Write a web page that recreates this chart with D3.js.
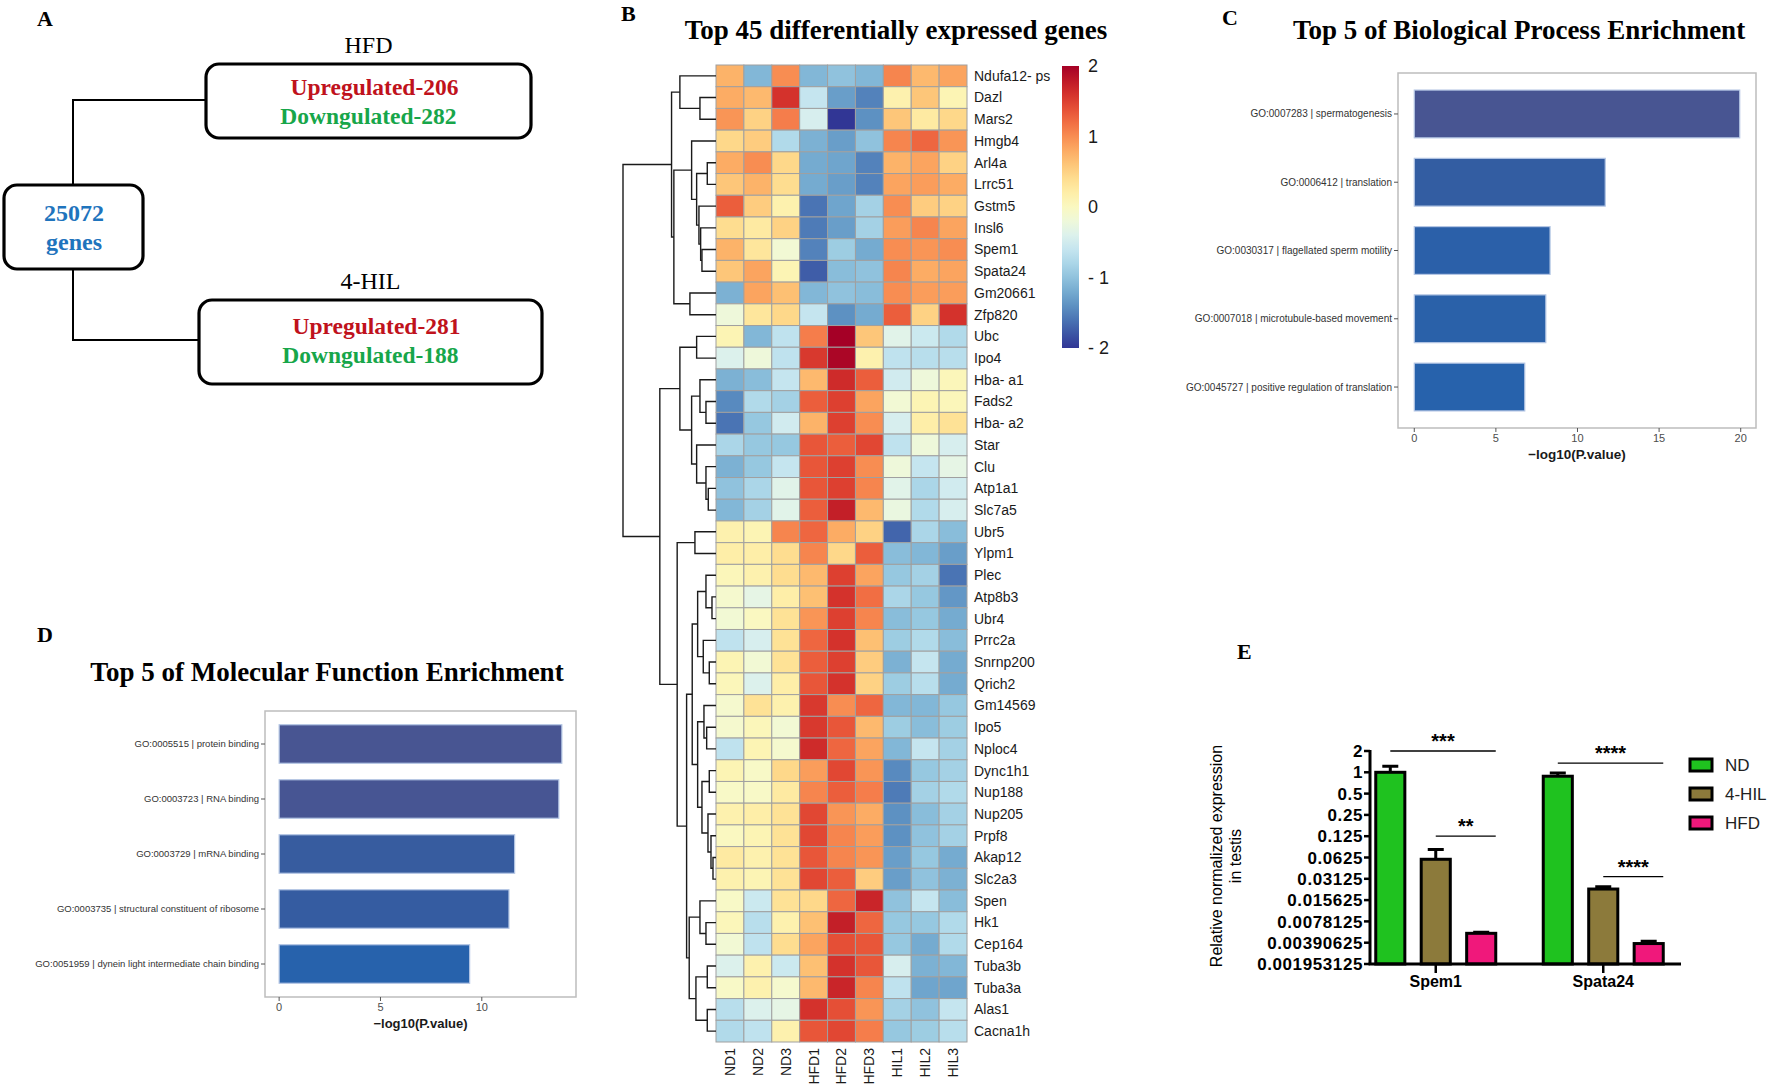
<!DOCTYPE html>
<html>
<head>
<meta charset="utf-8">
<title>Top 45 DEGs figure</title>
<script src="https://cdn.jsdelivr.net/npm/d3@7"></script>
<style>
  body { margin: 0; background: #fff; }
  svg { display: block; }
</style>
</head>
<body>
<svg id="figure" width="1772" height="1087"></svg>
<script>
// ---- panel A: DEG counts
const totalGenes = 25072;
const comparisons = ['HFD', '4-HIL'];
const upregulated = [206, 281];
const downregulated = [282, 188];

// ---- panel B: heatmap (row z-scores)
const sampleNames = ['ND1', 'ND2', 'ND3', 'HFD1', 'HFD2', 'HFD3', 'HIL1', 'HIL2', 'HIL3'];
const geneNames = ['Ndufa12- ps', 'Dazl', 'Mars2', 'Hmgb4', 'Arl4a', 'Lrrc51', 'Gstm5', 'Insl6', 'Spem1',
  'Spata24', 'Gm20661', 'Zfp820', 'Ubc', 'Ipo4', 'Hba- a1', 'Fads2', 'Hba- a2', 'Star', 'Clu', 'Atp1a1',
  'Slc7a5', 'Ubr5', 'Ylpm1', 'Plec', 'Atp8b3', 'Ubr4', 'Prrc2a', 'Snrnp200', 'Qrich2', 'Gm14569', 'Ipo5',
  'Nploc4', 'Dync1h1', 'Nup188', 'Nup205', 'Prpf8', 'Akap12', 'Slc2a3', 'Spen', 'Hk1', 'Cep164', 'Tuba3b',
  'Tuba3a', 'Alas1', 'Cacna1h'];
const zScores = [
  [0.75, -1.1, 1.0, -1.1, -1.0, -1.1, 1.05, 0.7, 0.85],
  [0.8, 0.7, 1.6, -0.6, -1.3, -1.5, 0.15, 0.6, 0.1],
  [0.95, 0.5, 1.1, -0.45, -2.0, -1.4, 0.6, 0.25, 0.45],
  [0.45, 0.55, -0.75, -1.15, -1.3, -1.0, 1.05, 1.25, 0.95],
  [0.8, 1.0, 0.45, -1.2, -1.25, -1.5, 0.75, 0.85, 0.5],
  [0.6, 0.75, 0.4, -1.2, -1.3, -1.5, 0.85, 0.9, 0.8],
  [1.3, 0.55, 0.15, -1.6, -1.25, -0.85, 1.0, 0.55, 0.5],
  [0.4, 0.25, 0.5, -1.55, -1.3, -0.85, 0.9, 1.05, 0.85],
  [0.75, 0.3, -0.15, -1.5, -0.9, -1.2, 1.0, 0.95, 1.0],
  [0.6, 0.85, 0.1, -1.75, -1.05, -1.0, 1.05, 0.8, 0.85],
  [-1.15, 0.85, 0.65, -1.1, -1.0, -1.05, 1.0, 0.9, 0.9],
  [-0.2, 0.3, 0.45, -0.6, -1.4, -1.2, 1.3, 0.5, 1.6],
  [0.1, -1.1, -0.65, 1.1, 2.0, 0.6, -0.35, -0.55, -0.75],
  [-0.4, -0.2, -0.65, 1.55, 1.95, 0.15, -0.65, -0.7, -0.7],
  [-1.15, -1.05, -0.6, 0.7, 1.65, 1.3, -0.5, -0.2, 0.05],
  [-1.45, -0.75, -0.85, 1.3, 1.5, 0.85, -0.15, 0.1, 0.05],
  [-1.6, -0.95, -0.5, 0.75, 1.5, 1.0, -0.45, 0.2, 0.35],
  [-0.8, -0.95, -0.95, 1.35, 1.3, 1.45, -0.65, -0.2, -0.45],
  [-1.15, -0.95, -0.6, 1.35, 1.5, 1.0, -0.2, -0.6, -0.3],
  [-1.0, -0.8, -0.35, 1.35, 1.5, 1.05, -0.35, -0.8, -0.5],
  [-1.1, -0.85, -0.35, 1.3, 1.75, 0.7, -0.25, -0.75, -0.45],
  [0.15, 0.1, 1.05, 1.25, 0.8, 0.5, -1.7, -0.8, -1.05],
  [0.2, 0.2, 0.4, 1.05, 0.45, 1.3, -1.05, -1.1, -1.3],
  [0.05, 0.15, 0.4, 0.7, 1.5, 0.85, -0.95, -0.85, -1.6],
  [-0.1, -0.3, 0.2, 0.65, 1.6, 1.2, -0.8, -0.95, -1.35],
  [-0.15, 0.0, 0.35, 0.95, 1.5, 1.05, -1.05, -0.95, -1.2],
  [-0.65, -0.45, 0.35, 1.25, 1.6, 0.65, -0.9, -0.75, -1.05],
  [0.1, -0.15, 0.35, 1.3, 1.5, 0.55, -1.15, -0.6, -1.2],
  [0.05, -0.4, 0.2, 1.35, 1.6, 0.5, -0.9, -0.7, -1.2],
  [-0.1, 0.35, 0.15, 1.55, 1.0, 1.25, -1.1, -1.1, -0.95],
  [-0.1, 0.05, -0.15, 1.55, 1.35, 0.7, -0.9, -1.05, -0.9],
  [-0.65, 0.1, -0.1, 1.65, 1.25, 0.85, -1.1, -0.6, -0.85],
  [0.1, -0.05, 0.45, 0.9, 1.45, 0.95, -1.45, -0.95, -0.85],
  [-0.05, -0.05, 0.25, 1.05, 1.3, 1.1, -1.55, -0.85, -0.75],
  [0.15, 0.2, 0.35, 1.45, 0.95, 0.8, -1.4, -1.05, -0.85],
  [0.0, 0.1, 0.35, 1.45, 1.05, 0.9, -1.4, -1.0, -0.85],
  [0.25, 0.15, 0.35, 1.35, 1.05, 0.95, -1.3, -0.95, -1.2],
  [0.15, 0.1, 0.35, 1.45, 1.3, 0.55, -1.3, -1.0, -1.15],
  [-0.05, -0.55, 0.35, 0.45, 1.25, 1.7, -1.0, -0.6, -1.05],
  [0.05, -0.7, 0.15, 0.65, 1.75, 1.25, -0.95, -0.95, -0.75],
  [-0.15, -0.65, 0.4, 0.85, 1.4, 1.35, -0.95, -1.2, -0.75],
  [-0.4, 0.15, -0.55, 0.65, 1.6, 1.35, -0.45, -1.15, -1.1],
  [-0.05, 0.15, -0.1, 0.7, 1.7, 1.05, -0.65, -1.25, -1.25],
  [-0.7, -0.4, -0.3, 1.6, 1.4, 0.95, -0.85, -1.0, -0.6],
  [-0.75, -0.65, 0.15, 1.35, 1.45, 1.1, -0.95, -0.9, -0.7]
];
// row clustering, hclust style: negative = leaf (row+1), positive = earlier merge (1-based), then height
const rowMerges = [
  [-2, -3, 16], [-1, 1, 36], [-5, -6, 8.7], [-9, -10, 14], [-8, 4, 15.3], [-7, 5, 17], [3, 6, 19.3],
  [-4, 7, 24.3], [-11, -12, 26], [8, 9, 42], [2, 10, 44.3],
  [-13, -14, 19.3], [-16, -17, 10], [-15, 13, 16], [-20, -21, 7.7], [-19, 15, 10], [-18, 16, 19.3],
  [14, 17, 24.3], [12, 18, 36], [-22, -23, 21], [-25, -26, 4], [-24, 21, 10], [-28, -29, 6.7],
  [-27, 23, 12.7], [22, 24, 18.3], [-31, -32, 9.3], [-30, 26, 12], [-33, -34, 6.7], [-37, -38, 3],
  [-36, 29, 5], [-35, 30, 8], [28, 31, 14], [27, 32, 18.3], [25, 33, 23.7], [-40, -41, 10],
  [-39, 35, 16], [-42, -43, 8.7], [-44, -45, 8.7], [37, 38, 20], [36, 39, 26.7], [34, 40, 29.3],
  [20, 41, 38.7], [19, 42, 56], [11, 43, 92.7]
];
const legendTicks = [2, 1, 0, -1, -2];

// ---- panel C: biological process
const bpTerms = ['GO:0007283 | spermatogenesis', 'GO:0006412 | translation',
  'GO:0030317 | flagellated sperm motility', 'GO:0007018 | microtubule-based movement',
  'GO:0045727 | positive regulation of translation'];
const bpValues = [19.94, 11.7, 8.32, 8.06, 6.77];

// ---- panel D: molecular function
const mfTerms = ['GO:0005515 | protein binding', 'GO:0003723 | RNA binding', 'GO:0003729 | mRNA binding',
  'GO:0003735 | structural constituent of ribosome', 'GO:0051959 | dynein light intermediate chain binding'];
const mfValues = [13.95, 13.8, 11.62, 11.34, 9.4];

// ---- panel E: qPCR
const qpcrGenes = ['Spem1', 'Spata24'];
const qpcrGroups = ['ND', '4-HIL', 'HFD'];
const qpcrMeans = [[1.0, 0.059, 0.0053], [0.88, 0.0224, 0.0038]];
const qpcrUpper = [[1.22, 0.081, 0.0055], [0.98, 0.0242, 0.0041]];
const qpcrTicks = [2, 1, 0.5, 0.25, 0.125, 0.0625, 0.03125, 0.015625, 0.0078125, 0.00390625, 0.001953125];
const sigGene = [0, 0, 1, 1];
const sigFrom = [0, 1, 0, 1];
const sigTo = [2, 2, 2, 2];
const sigLevel = [2, 0.125, 1.35, 0.0335];
const sigLabel = ['***', '**', '****', '****'];


const serif = '"Liberation Serif", "Times New Roman", serif';
const sans = '"Liberation Sans", Arial, sans-serif';
const svg = d3.select('#figure');

function panelLetter(txt, x, y) {
  svg.append('text').attr('x', x).attr('y', y).text(txt)
    .style('font-family', serif).style('font-weight', 'bold').style('font-size', '22px');
}
function serifTitle(txt, x, y) {
  svg.append('text').attr('x', x).attr('y', y).attr('text-anchor', 'middle').text(txt)
    .style('font-family', serif).style('font-weight', 'bold').style('font-size', '27px');
}

drawPanelA();
drawHeatmap();
drawEnrichment(bpTerms, bpValues, {x0: 1398, x1: 1756, y0: 73, y1: 428}, 10, 5, 13.5);
drawEnrichment(mfTerms, mfValues, {x0: 265, x1: 576, y0: 711, y1: 997}, 9.5, 3, 13);
drawQpcr();

panelLetter('A', 37, 26);
panelLetter('B', 621, 21);
panelLetter('C', 1222, 25);
panelLetter('D', 37, 642);
panelLetter('E', 1237, 659);
serifTitle('Top 45 differentially expressed genes', 896, 39);
serifTitle('Top 5 of Biological Process Enrichment', 1519, 39);
serifTitle('Top 5 of Molecular Function Enrichment', 327, 681);


function drawPanelA() {
  const g = svg.append('g');
  const box = (x, y, w, h) => g.append('rect').attr('x', x).attr('y', y).attr('width', w).attr('height', h)
    .attr('rx', 13).attr('fill', 'none').attr('stroke', '#000').attr('stroke-width', 3.2);

  // connectors
  g.append('path').attr('d', 'M206,100H73V185M73,269V340H199')
    .attr('fill', 'none').attr('stroke', '#000').attr('stroke-width', 2);

  box(4, 185, 139, 84);
  g.append('text').attr('x', 74).attr('y', 221).text(totalGenes);
  g.append('text').attr('x', 74).attr('y', 250).text('genes');
  g.selectAll('text').attr('text-anchor', 'middle').attr('fill', '#1f74bd')
    .style('font-family', serif).style('font-weight', 'bold').style('font-size', '24px');

  const boxes = [
    {x: 206, y: 64, w: 325, h: 74, top: 53, up: 95, down: 124},
    {x: 199, y: 300, w: 343, h: 84, top: 289, up: 334, down: 363}
  ];
  comparisons.forEach((name, i) => {
    const b = boxes[i];
    const cx = b.x + b.w / 2;
    box(b.x, b.y, b.w, b.h);
    g.append('text').attr('x', cx).attr('y', b.top).attr('text-anchor', 'middle').text(name)
      .style('font-family', serif).style('font-size', '24px');
    g.append('text').attr('x', cx + 6).attr('y', b.up).attr('text-anchor', 'middle')
      .attr('fill', '#c0121c').text('Upregulated-' + upregulated[i])
      .style('font-family', serif).style('font-weight', 'bold').style('font-size', '23.5px');
    g.append('text').attr('x', cx).attr('y', b.down).attr('text-anchor', 'middle')
      .attr('fill', '#17a64a').text('Downgulated-' + downregulated[i])
      .style('font-family', serif).style('font-weight', 'bold').style('font-size', '23.5px');
  });
}


function drawHeatmap() {
  const hm = {x0: 716, x1: 967, y0: 65, y1: 1042};
  const g = svg.append('g');
  const xCell = d3.scaleBand().domain(sampleNames).range([hm.x0, hm.x1]);
  const yCell = d3.scaleBand().domain(d3.range(geneNames.length)).range([hm.y0, hm.y1]);
  const heatColor = d3.scaleSequential(d3.interpolateRdYlBu).domain([2, -2]);

  zScores.forEach((row, r) => {
    g.selectAll(null).data(row).enter().append('rect')
      .attr('x', (d, c) => xCell(sampleNames[c]))
      .attr('y', yCell(r))
      .attr('width', xCell.bandwidth())
      .attr('height', yCell.bandwidth())
      .attr('fill', d => heatColor(d))
      .attr('stroke', '#a0a0a0')
      .attr('stroke-width', 1);
  });

  g.selectAll('.gene').data(geneNames).enter().append('text')
    .attr('x', hm.x1 + 7)
    .attr('y', (d, i) => yCell(i) + yCell.bandwidth() / 2)
    .attr('dy', '0.35em')
    .attr('fill', '#1a1a1a')
    .text(d => d)
    .style('font-family', sans).style('font-size', '14px');

  g.selectAll('.sample').data(sampleNames).enter().append('text')
    .attr('transform', d => `translate(${xCell(d) + xCell.bandwidth() / 2},${hm.y1 + 6}) rotate(-90)`)
    .attr('dy', '0.35em')
    .attr('text-anchor', 'end')
    .attr('fill', '#1a1a1a')
    .text(d => d)
    .style('font-family', sans).style('font-size', '14px');

  // dendrogram
  const hScale = d3.scaleLinear().domain([0, d3.max(rowMerges, m => m[2])]).range([hm.x0, 623]);
  const nodes = [];
  const pos = ref => ref < 0
    ? {x: hScale(0), y: yCell(-ref - 1) + yCell.bandwidth() / 2}
    : nodes[ref - 1];
  rowMerges.forEach(([a, b, h]) => {
    const pa = pos(a), pb = pos(b), x = hScale(h);
    nodes.push({x: x, y: (pa.y + pb.y) / 2});
    g.append('path')
      .attr('d', `M${pa.x},${pa.y}H${x}V${pb.y}H${pb.x}`)
      .attr('fill', 'none').attr('stroke', '#1a1a1a').attr('stroke-width', 1.4);
  });

  // colour legend
  const cbY = d3.scaleLinear().domain([-2, 2]).range([348, 66]);
  const grad = svg.append('defs').append('linearGradient').attr('id', 'cbar')
    .attr('x1', 0).attr('y1', 1).attr('x2', 0).attr('y2', 0);
  d3.range(0, 1.0001, 0.05).forEach(t => {
    grad.append('stop').attr('offset', t).attr('stop-color', heatColor(-2 + 4 * t));
  });
  g.append('rect').attr('x', 1062).attr('y', cbY(2)).attr('width', 17).attr('height', cbY(-2) - cbY(2))
    .attr('fill', 'url(#cbar)');
  g.selectAll('.cbtick').data(legendTicks).enter().append('text')
    .attr('x', 1088)
    .attr('y', d => cbY(d))
    .attr('dy', '0.35em')
    .attr('fill', '#1a1a1a')
    .text(d => d < 0 ? '- ' + Math.abs(d) : d)
    .style('font-family', sans).style('font-size', '18px');
}


function drawEnrichment(terms, values, box, labelSize, tickCount, titleSize) {
  const g = svg.append('g');
  const maxV = d3.max(values);
  const x = d3.scaleLinear().domain([-0.05 * maxV, 1.05 * maxV]).range([box.x0, box.x1]);
  const y = d3.scaleBand().domain(terms).range([box.y0, box.y1]).paddingInner(0.3).paddingOuter(0.25);
  const fill = d3.scaleLinear().domain([d3.min(values), maxV]).range(['#2762ac', '#485592']);

  g.append('rect').attr('x', box.x0).attr('y', box.y0)
    .attr('width', box.x1 - box.x0).attr('height', box.y1 - box.y0)
    .attr('fill', 'none').attr('stroke', '#bdbdbd').attr('stroke-width', 1.5);

  g.selectAll('.bar').data(values).enter().append('rect')
    .attr('x', x(0))
    .attr('y', (d, i) => y(terms[i]))
    .attr('width', d => x(d) - x(0))
    .attr('height', y.bandwidth())
    .attr('fill', d => fill(d))
    .attr('stroke', '#b4c6e4').attr('stroke-width', 1.2);

  const ty = g.selectAll('.yt').data(terms).enter().append('g')
    .attr('transform', d => `translate(${box.x0},${y(d) + y.bandwidth() / 2})`);
  ty.append('line').attr('x1', -4).attr('x2', 0).attr('stroke', '#555').attr('stroke-width', 1);
  ty.append('text').attr('x', -6).attr('dy', '0.35em').attr('text-anchor', 'end')
    .attr('fill', '#333').text(d => d)
    .style('font-family', sans).style('font-size', labelSize + 'px');

  const tx = g.selectAll('.xt').data(x.ticks(tickCount)).enter().append('g')
    .attr('transform', d => `translate(${x(d)},${box.y1})`);
  tx.append('line').attr('y2', 4).attr('stroke', '#555').attr('stroke-width', 1);
  tx.append('text').attr('y', 14).attr('text-anchor', 'middle').attr('fill', '#4d4d4d')
    .text(d => d).style('font-family', sans).style('font-size', '11px');

  g.append('text').attr('x', (box.x0 + box.x1) / 2).attr('y', box.y1 + 31)
    .attr('text-anchor', 'middle').attr('fill', '#1a1a1a').text('\u2212log10(P.value)')
    .style('font-family', sans).style('font-weight', 'bold').style('font-size', titleSize + 'px');
}


function drawQpcr() {
  const g = svg.append('g');
  const box = {x0: 1370, x1: 1681, y0: 751, y1: 964};
  const groupColor = d3.scaleOrdinal().domain(qpcrGroups).range(['#1fc21f', '#8c7a3b', '#f0187b']);
  const yE = d3.scaleLog().base(2)
    .domain([qpcrTicks[qpcrTicks.length - 1], qpcrTicks[0]])
    .range([box.y1, box.y0]);
  const xGene = d3.scalePoint().domain(qpcrGenes).range([1352, 1687]).padding(0.5);
  const xGroup = d3.scaleBand().domain(qpcrGroups).range([-60, 60]).paddingInner(0.36);
  const barX = (gi, k) => xGene(qpcrGenes[gi]) + xGroup(qpcrGroups[k]);

  qpcrGenes.forEach((gene, gi) => {
    qpcrGroups.forEach((grp, k) => {
      const cx = barX(gi, k) + xGroup.bandwidth() / 2;
      // error bar
      g.append('path')
        .attr('d', `M${cx},${yE(qpcrMeans[gi][k])}V${yE(qpcrUpper[gi][k])}m-8,0h16`)
        .attr('fill', 'none').attr('stroke', '#000').attr('stroke-width', 3);
      g.append('rect')
        .attr('x', barX(gi, k))
        .attr('y', yE(qpcrMeans[gi][k]))
        .attr('width', xGroup.bandwidth())
        .attr('height', box.y1 - yE(qpcrMeans[gi][k]))
        .attr('fill', groupColor(grp))
        .attr('stroke', '#000').attr('stroke-width', 3);
    });
  });

  // axes
  g.append('line').attr('x1', box.x0).attr('x2', box.x0).attr('y1', box.y0 - 1).attr('y2', box.y1)
    .attr('stroke', '#000').attr('stroke-width', 3);
  g.append('line').attr('x1', box.x0 - 1.5).attr('x2', box.x1).attr('y1', box.y1).attr('y2', box.y1)
    .attr('stroke', '#000').attr('stroke-width', 3);
  const ty = g.selectAll('.yt').data(qpcrTicks).enter().append('g')
    .attr('transform', d => `translate(${box.x0},${yE(d)})`);
  ty.append('line').attr('x1', -6).attr('x2', 0).attr('stroke', '#000').attr('stroke-width', 2.5);
  ty.append('text').attr('x', -7).attr('dy', '0.36em').attr('text-anchor', 'end').text(d => d)
    .style('font-family', sans).style('font-weight', 'bold').style('font-size', '17px')
    .style('letter-spacing', '0.6px');
  const tx = g.selectAll('.xt').data(qpcrGenes).enter().append('g')
    .attr('transform', d => `translate(${xGene(d)},${box.y1})`);
  tx.append('line').attr('y2', 9).attr('stroke', '#000').attr('stroke-width', 2.5);
  tx.append('text').attr('y', 23).attr('text-anchor', 'middle').text(d => d)
    .style('font-family', sans).style('font-weight', 'bold').style('font-size', '16px');

  g.append('text').attr('transform', 'translate(1222,856) rotate(-90)').attr('text-anchor', 'middle')
    .text('Relative normalized expression')
    .style('font-family', sans).style('font-size', '16px');
  g.append('text').attr('transform', 'translate(1241,856) rotate(-90)').attr('text-anchor', 'middle')
    .text('in testis')
    .style('font-family', sans).style('font-size', '16px');

  // significance brackets
  sigLabel.forEach((lab, i) => {
    const x1 = barX(sigGene[i], sigFrom[i]) + xGroup.bandwidth() / 2;
    const x2 = barX(sigGene[i], sigTo[i]) + xGroup.bandwidth();
    const yy = yE(sigLevel[i]);
    g.append('line').attr('x1', x1).attr('x2', x2).attr('y1', yy).attr('y2', yy)
      .attr('stroke', '#000').attr('stroke-width', 1.3);
    g.append('text').attr('x', (x1 + x2) / 2).attr('y', yy - 3).attr('text-anchor', 'middle').text(lab)
      .style('font-family', sans).style('font-weight', 'bold').style('font-size', '20px');
  });

  // legend
  const lg = g.selectAll('.lg').data(qpcrGroups).enter().append('g')
    .attr('transform', (d, i) => `translate(1690,${765 + i * 29})`);
  lg.append('rect').attr('x', 0).attr('y', -6).attr('width', 22).attr('height', 12)
    .attr('fill', d => groupColor(d)).attr('stroke', '#000').attr('stroke-width', 3);
  lg.append('text').attr('x', 35).attr('dy', '0.36em').attr('fill', '#222').text(d => d)
    .style('font-family', sans).style('font-size', '17px');
}
</script>
</body>
</html>
